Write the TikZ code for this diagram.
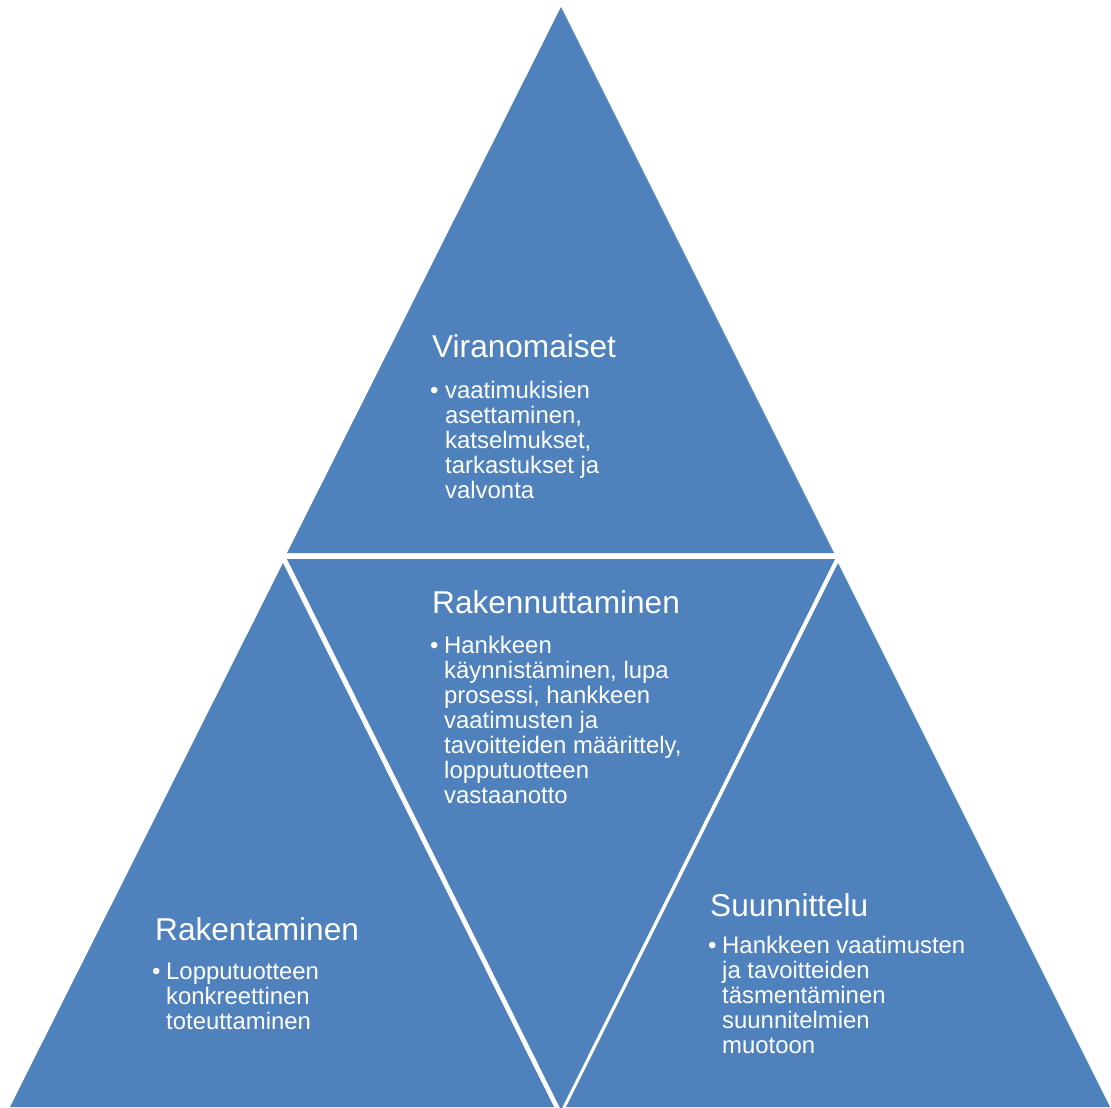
\documentclass[tikz,border=0pt]{standalone}
\usepackage{fontspec}
\setmainfont{Liberation Sans}
\usetikzlibrary{positioning}

\definecolor{triblue}{HTML}{4F81BD}

\tikzset{
  tri/.style={fill=triblue},
  head/.style={anchor=base west, inner sep=0pt, text=white,
    font=\fontsize{31.6}{36}\selectfont},
  dot/.style={anchor=base west, inner sep=0pt, text=white,
    font=\fontsize{24}{25}\selectfont},
  items/.style={anchor=base west, inner sep=0pt, text=white,
    font=\fontsize{23.9}{25}\selectfont},
}

\newcommand{\itemlines}[1]{\parbox[t]{10cm}{\raggedright#1}}

\begin{document}
\begin{tikzpicture}[x=1pt, y=-1pt]

  \useasboundingbox (0,0) rectangle (1111,1108);

  % top
  \coordinate (T1) at (561,7);
  \coordinate (T2) at (287,553);
  \coordinate (T3) at (834,553);
  % middle (upside down)
  \coordinate (M1) at (287,559);
  \coordinate (M2) at (835,559);
  \coordinate (M3) at (561,1110);
  % left
  \coordinate (L1) at (283,563);
  \coordinate (L2) at (10,1107);
  \coordinate (L3) at (554,1107);
  % right
  \coordinate (R1) at (838,563);
  \coordinate (R2) at (566,1107);
  \coordinate (R3) at (1110,1107);

  \fill[tri] (T1) -- (T2) -- (T3) -- cycle;
  \fill[tri] (M1) -- (M2) -- (M3) -- cycle;
  \fill[tri] (L1) -- (L2) -- (L3) -- cycle;
  \fill[tri] (R1) -- (R2) -- (R3) -- cycle;

  % Viranomaiset
  \node[head] (virhead) at (432,357) {Viranomaiset};
  \node[dot] (virdot) at (430,398) {•};
  \node[items] (virtext) at (445,398) {\itemlines{vaatimukisien\\
    asettaminen,\\ katselmukset,\\ tarkastukset ja\\ valvonta}};

  % Rakennuttaminen
  \node[head] (rakhead) at (432,613) {Rakennuttaminen};
  \node[dot] (rakdot) at (430,653) {•};
  \node[items] (raktext) at (444,653) {\itemlines{Hankkeen\\
    käynnistäminen, lupa\\ prosessi, hankkeen\\ vaatimusten ja\\
    tavoitteiden määrittely,\\ lopputuotteen\\ vastaanotto}};

  % Rakentaminen
  \node[head] (tekhead) at (155,940) {Rakentaminen};
  \node[dot] (tekdot) at (152,979) {•};
  \node[items] (tektext) at (166,979) {\itemlines{Lopputuotteen\\
    konkreettinen\\ toteuttaminen}};

  % Suunnittelu
  \node[head] (suuhead) at (710,916) {Suunnittelu};
  \node[dot] (suudot) at (708,953) {•};
  \node[items] (suutext) at (722,953) {\itemlines{Hankkeen vaatimusten\\
    ja tavoitteiden\\ täsmentäminen\\ suunnitelmien\\ muotoon}};

\end{tikzpicture}
\end{document}
